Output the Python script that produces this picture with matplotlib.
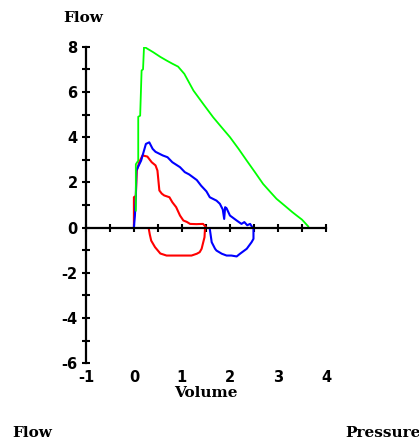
import matplotlib
matplotlib.use("Agg")
import matplotlib.pyplot as plt
import numpy as np

# flow-volume loops (volume in L, flow in L/s)
green_vol = [0.04, 0.04, 0.09, 0.09, 0.13, 0.16, 0.19, 0.21, 0.25, 0.40, 0.55, 0.68,
             0.80, 0.92, 1.05, 1.24, 1.45, 1.65, 1.82, 2.00, 2.18, 2.35, 2.52, 2.69,
             2.85, 2.97, 3.15, 3.30, 3.39, 3.50, 3.63]
green_flow = [0.75, 2.80, 2.96, 4.90, 4.95, 6.95, 7.00, 7.98, 7.95, 7.76, 7.55, 7.39,
              7.25, 7.12, 6.80, 6.06, 5.45, 4.88, 4.45, 4.00, 3.48, 2.96, 2.45, 1.93,
              1.55, 1.27, 0.95, 0.68, 0.53, 0.35, 0.05]

blue_vol = [0.00, 0.02, 0.04, 0.05, 0.15, 0.25, 0.32, 0.39, 0.45, 0.60, 0.70, 0.80,
            0.96, 1.06, 1.15, 1.31, 1.40, 1.51, 1.58, 1.72, 1.79, 1.85, 1.88, 1.90,
            1.93, 2.00, 2.14, 2.24, 2.30, 2.36, 2.42, 2.47,
            2.49, 2.49, 2.45, 2.35, 2.21, 2.14, 2.03, 1.93, 1.83, 1.72, 1.69, 1.62,
            1.58]
blue_flow = [0.00, 0.50, 1.34, 2.52, 2.96, 3.70, 3.77, 3.48, 3.35, 3.19, 3.11, 2.89,
             2.67, 2.45, 2.35, 2.10, 1.85, 1.60, 1.34, 1.19, 1.05, 0.80, 0.38, 0.90,
             0.85, 0.53, 0.31, 0.16, 0.24, 0.10, 0.16, 0.00,
             -0.05, -0.50, -0.65, -0.94, -1.16, -1.28, -1.24, -1.24, -1.16, -1.02,
             -0.94, -0.65, -0.06]

red_vol = [0.00, 0.00, 0.04, 0.06, 0.11, 0.18, 0.28, 0.37, 0.45, 0.49, 0.53, 0.58,
           0.63, 0.74, 0.80, 0.88, 0.96, 1.03, 1.10, 1.17, 1.30, 1.44, 1.50,
           1.48, 1.47, 1.41, 1.37, 1.31, 1.20, 0.95, 0.68, 0.55, 0.44, 0.36, 0.33,
           0.31]
red_flow = [0.00, 1.34, 1.40, 2.52, 2.89, 3.19, 3.14, 2.89, 2.75, 2.52, 1.64, 1.50,
            1.42, 1.34, 1.12, 0.90, 0.53, 0.31, 0.25, 0.16, 0.15, 0.16, 0.02,
            -0.06, -0.43, -0.94, -1.09, -1.16, -1.24, -1.24, -1.24, -1.15, -0.87,
            -0.58, -0.30, -0.06]

x_labels = ["-1", "0", "1", "2", "3", "4"]
y_labels = ["-6", "-4", "-2", "0", "2", "4", "6", "8"]

fig = plt.figure(figsize=(4.19, 4.45), dpi=100)
ax = fig.add_axes([0.205, 0.184, 0.573, 0.711])

ax.plot(red_vol, red_flow, color="#ff0000", lw=1.5)
ax.plot(blue_vol, blue_flow, color="#0000ff", lw=1.5)
ax.plot(green_vol, green_flow, color="#00ff00", lw=1.3)

ax.set_xlim(-1, 4)
ax.set_ylim(-6, 8)
for s in ("top", "right"):
    ax.spines[s].set_visible(False)
ax.spines["bottom"].set_position(("data", 0))
ax.spines["left"].set_linewidth(1.6)
ax.spines["bottom"].set_linewidth(1.6)

ax.set_xticks(np.arange(-1, 4.01, 0.5))
ax.set_xticklabels([])
ax.set_yticks([int(v) for v in y_labels])
ax.set_yticklabels(y_labels, fontsize=10.5, fontweight="bold")
ax.set_yticks(np.arange(-6, 8.01, 1), minor=True)
ax.tick_params(axis="both", which="both", direction="inout", length=6, width=1.5, pad=3)

# volume labels sit below the plot, not on the zero line
for lab in x_labels:
    ax.text(int(lab), -0.045, lab, transform=ax.get_xaxis_transform(),
            ha="center", va="center", fontsize=10.5, fontweight="bold")
ax.text(0.5, -0.093, "Volume", transform=ax.transAxes, ha="center", va="center",
        fontsize=11, family="DejaVu Serif", fontweight="bold")

fig.text(0.198, 0.96, "Flow", ha="center", va="center", fontsize=11,
         family="DejaVu Serif", fontweight="bold")
fig.text(0.03, 0.027, "Flow", ha="left", va="center", fontsize=11,
         family="DejaVu Serif", fontweight="bold")
fig.text(0.823, 0.027, "Pressure", ha="left", va="center", fontsize=11,
         family="DejaVu Serif", fontweight="bold")

fig.savefig("out.png", dpi=100)
